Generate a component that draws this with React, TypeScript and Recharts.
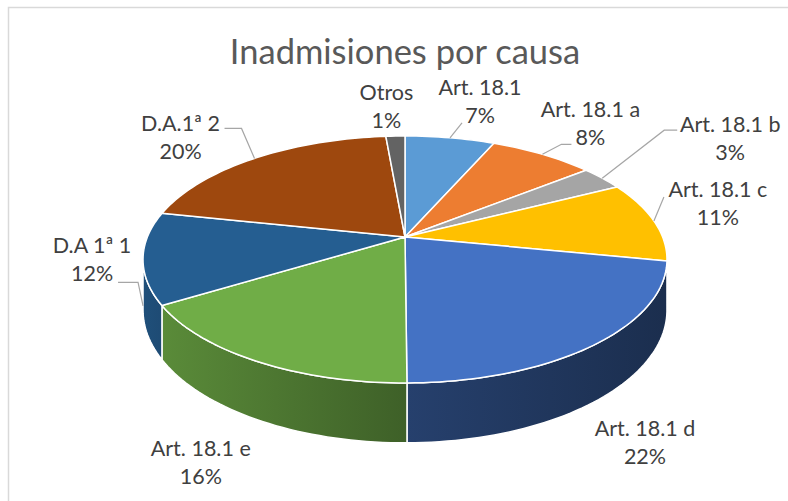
import React from "react";
import { PieChart, Pie, Cell } from "recharts";

const categories = [
  "Art. 18.1",
  "Art. 18.1 a",
  "Art. 18.1 b",
  "Art. 18.1 c",
  "Art. 18.1 d",
  "Art. 18.1 e",
  "D.A 1ª 1",
  "D.A.1ª 2",
  "Otros",
];
// share of each cause (labels show the rounded %)
const shares = [6.6, 7.7, 3.2, 10.6, 21.8, 16.4, 12.0, 20.3, 1.4];
const colors = [
  "#5B9BD5", "#ED7D31", "#A5A5A5", "#FFC000", "#4472C4",
  "#70AD47", "#255E91", "#9E480E", "#636363",
];

const data = categories.map((name, i) => ({ name, value: shares[i] }));

// label placement relative to the slice rim (dx, dy) and leader line end (ex, ey, tail)
const labelLayout = [
  { dx: 30, dy: -36, ex: -18, ey: 21, tail: 0, line: true },
  { dx: 48, dy: -30, ex: -19, ey: 20, tail: -10, line: true },
  { dx: 128, dy: -39, ex: -53, ey: -9, tail: -13, line: true },
  { dx: 64, dy: -17, ex: -54, ey: -7, tail: 0, line: true },
  { dx: 49, dy: 42, ex: 0, ey: 0, tail: 0, line: false },
  { dx: -55, dy: 44, ex: 0, ey: 0, tail: 0, line: false },
  { dx: -51, dy: -48, ex: 26, ey: 22, tail: 20, line: true },
  { dx: -74, dy: -20, ex: 44, ey: -10, tail: 17, line: true },
  { dx: -9, dy: -29, ex: 0, ey: 0, tail: 0, line: false },
];

const W = 788;
const H = 501;
const TILT = 0.4635; // vertical squash of the pie plane
const PERSP = 0.182; // far side smaller than near side
const DEPTH = 49;
const FONT = "Lato, 'Noto Sans', sans-serif";
const RAD = Math.PI / 180;

function project(cx: number, cy: number, r: number, deg: number, drop = 0): [number, number] {
  const s = Math.sin(deg * RAD);
  const c = Math.cos(deg * RAD);
  const k = 1 / (1 + PERSP * s);
  return [cx + r * c * k, cy - r * TILT * s * k + drop * k];
}

function arc(cx: number, cy: number, r: number, a0: number, a1: number, drop = 0) {
  const n = Math.max(2, Math.ceil(Math.abs(a1 - a0) / 1.5));
  const pts: [number, number][] = [];
  for (let i = 0; i <= n; i++) pts.push(project(cx, cy, r, a0 + ((a1 - a0) * i) / n, drop));
  return pts;
}

function shade(hex: string, f: number) {
  const n = parseInt(hex.slice(1), 16);
  const ch = (v: number) => Math.round(Math.min(255, v * f)).toString(16).padStart(2, "0");
  return "#" + ch((n >> 16) & 255) + ch((n >> 8) & 255) + ch(n & 255);
}

// side wall gets darker towards the right
const light = (deg: number) => 0.4 + 0.45 * Math.pow((1 - Math.cos(deg * RAD)) / 2, 1.5);

const toPath = (pts: [number, number][]) => pts.map((p) => p[0].toFixed(2) + "," + p[1].toFixed(2)).join("L");

function Slice3D(props: any) {
  const { cx, cy, outerRadius, startAngle, endAngle, fill } = props;
  const hiA = Math.max(startAngle, endAngle);
  const loA = Math.min(startAngle, endAngle);
  const edge = Math.asin(PERSP) / RAD;
  const wLo = Math.max(loA, -180 + edge);
  const wHi = Math.min(hiA, -edge);
  const id = "wall" + Math.round((startAngle + 400) * 100);
  let wall = null;
  if (wHi > wLo) {
    const topRim = arc(cx, cy, outerRadius, wLo, wHi);
    const botRim = arc(cx, cy, outerRadius, wHi, wLo, DEPTH);
    const x1 = project(cx, cy, outerRadius, wLo)[0];
    const x2 = project(cx, cy, outerRadius, wHi)[0];
    wall = (
      <g>
        <defs>
          <linearGradient id={id} gradientUnits="userSpaceOnUse" x1={x1} y1={0} x2={x2} y2={0}>
            <stop offset="0" stopColor={shade(fill, light(wLo))} />
            <stop offset="1" stopColor={shade(fill, light(wHi))} />
          </linearGradient>
        </defs>
        <path
          d={"M" + toPath(topRim) + "L" + toPath(botRim) + "Z"}
          fill={`url(#${id})`}
          stroke="#fff"
          strokeWidth={1.5}
          strokeLinejoin="round"
        />
      </g>
    );
  }
  const top = "M" + cx + "," + cy + "L" + toPath(arc(cx, cy, outerRadius, startAngle, endAngle)) + "Z";
  return (
    <g>
      {wall}
      <path d={top} fill={fill} stroke="#fff" strokeWidth={1.5} strokeLinejoin="round" />
    </g>
  );
}

function renderLabel(props: any) {
  const { cx, cy, midAngle, outerRadius, percent, index } = props;
  const lay = labelLayout[index];
  const front = Math.sin(midAngle * RAD) < 0;
  const [rx, ry] = project(cx, cy, outerRadius, midAngle, front ? DEPTH : 0);
  const lx = rx + lay.dx;
  const ly = ry + lay.dy;
  let leader = null;
  if (lay.line) {
    const [sx, sy] = project(cx, cy, outerRadius, midAngle, front ? DEPTH * 0.95 : 0);
    const exx = lx + lay.ex;
    const eyy = ly + lay.ey;
    leader = (
      <path
        d={`M${sx},${sy}L${exx + lay.tail},${eyy}L${exx},${eyy}`}
        fill="none"
        stroke="#A6A6A6"
        strokeWidth={1.2}
      />
    );
  }
  return (
    <g>
      {leader}
      <text x={lx} y={ly} textAnchor="middle" fill="#404040" fontSize={21.5} fontFamily={FONT}>
        <tspan x={lx} y={ly - 7}>{categories[index]}</tspan>
        <tspan x={lx} y={ly + 21}>{Math.round(percent * 100)}%</tspan>
      </text>
    </g>
  );
}

export default function App() {
  return (
    <div style={{ position: "absolute", left: 0, top: 0, width: W, height: H, background: "#fff" }}>
      <svg width={W} height={H} style={{ position: "absolute", left: 0, top: 0 }}>
        <rect x={8.5} y={7.5} width={W} height={H} fill="#fff" stroke="#D9D9D9" strokeWidth={1.5} />
        <text x={405} y={64} textAnchor="middle" fill="#595959" fontSize={34.5} fontFamily={FONT}>
          Inadmisiones por causa
        </text>
      </svg>
      <div style={{ position: "absolute", left: 0, top: 0 }}>
        <PieChart width={W} height={H} margin={{ top: 0, right: 0, bottom: 0, left: 0 }}>
          <Pie
            data={data}
            dataKey="value"
            nameKey="name"
            cx={405}
            cy={237}
            outerRadius={257.6}
            startAngle={90}
            endAngle={-270}
            stroke="#fff"
            shape={Slice3D}
            label={renderLabel}
            labelLine={false}
            isAnimationActive={false}
          >
            {data.map((d, i) => (
              <Cell key={d.name} fill={colors[i]} />
            ))}
          </Pie>
        </PieChart>
      </div>
    </div>
  );
}
